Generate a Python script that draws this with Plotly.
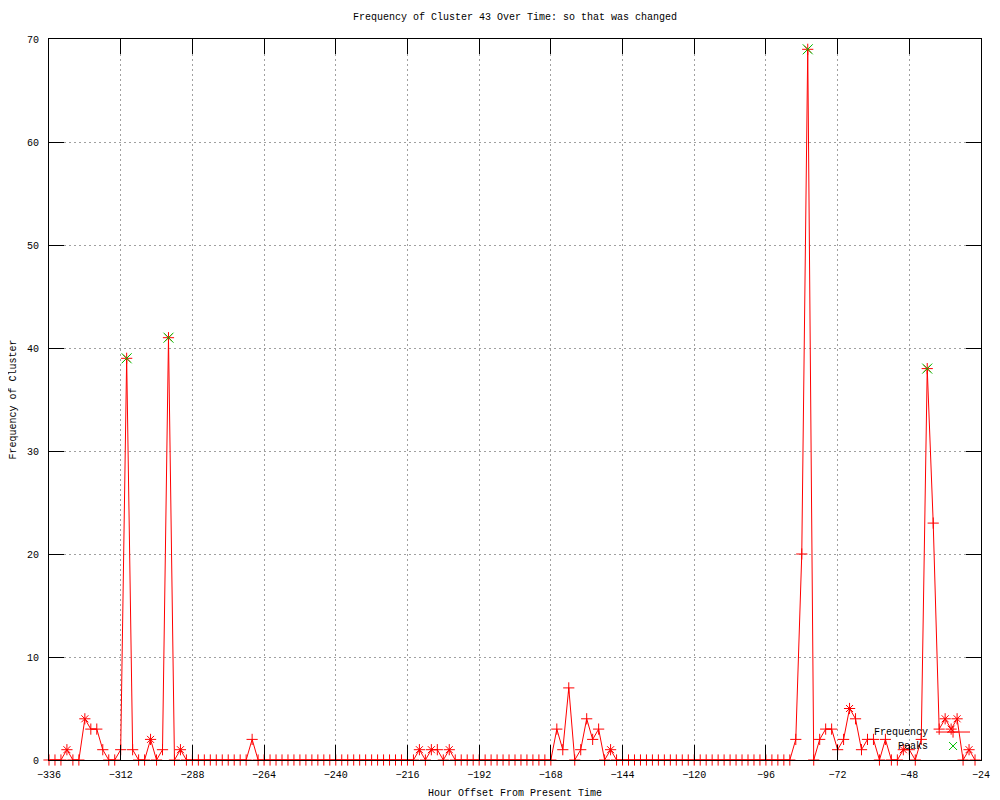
import plotly.graph_objects as go

# ---- data ----
hours = list(range(-336, -24, 2))  # -336 .. -26
freq = [
    0, 0, 0, 1, 0, 0, 4, 3, 3, 1, 0, 0,        # -336 .. -314
    1, 39, 1, 0, 0, 2, 0, 1, 41, 0, 1, 0,      # -312 .. -290
    0, 0, 0, 0, 0, 0, 0, 0, 0, 0, 2, 0,        # -288 .. -266
    0, 0, 0, 0, 0, 0, 0, 0, 0, 0, 0, 0,        # -264 .. -242
    0, 0, 0, 0, 0, 0, 0, 0, 0, 0, 0, 0,        # -240 .. -218
    0, 0, 1, 0, 1, 1, 0, 1, 0, 0, 0, 0,        # -216 .. -194
    0, 0, 0, 0, 0, 0, 0, 0, 0, 0, 0, 0,        # -192 .. -170
    0, 3, 1, 7, 0, 1, 4, 2, 3, 0, 1, 0,        # -168 .. -146
    0, 0, 0, 0, 0, 0, 0, 0, 0, 0, 0, 0,        # -144 .. -122
    0, 0, 0, 0, 0, 0, 0, 0, 0, 0, 0, 0,        # -120 .. -98
    0, 0, 0, 0, 0, 2, 20, 69, 0, 2, 3, 3,      # -96 .. -74
    1, 2, 5, 4, 1, 2, 2, 0, 2, 0, 0, 1,        # -72 .. -50
    1, 0, 2, 38, 23, 3, 4, 3, 4, 0, 1, 0,      # -48 .. -26
]
# points that are drawn as stars (extra red x mark)
star_hours = [-330, -324, -310, -302, -296, -292, -212, -208, -202, -148,
              -82, -68, -50, -42, -36, -34, -32, -28]
peak_hours = [-310, -296, -82, -42]
peak_vals = [39, 41, 69, 38]

x_ticks = list(range(-336, -23, 24))
y_ticks = list(range(0, 71, 10))

RED = "#ff0000"
GREEN = "#00c000"
FONT = "Liberation Mono"

lookup = dict(zip(hours, freq))
star_vals = [lookup[h] for h in star_hours]

fig = go.Figure()
fig.add_trace(go.Scatter(
    x=hours, y=freq, mode="lines+markers", name="Frequency",
    line=dict(color=RED, width=1),
    marker=dict(symbol="cross-thin", size=8, color=RED, line=dict(color=RED, width=1)),
    showlegend=False, cliponaxis=False))
fig.add_trace(go.Scatter(
    x=star_hours, y=star_vals, mode="markers",
    marker=dict(symbol="x-thin", size=7, color=RED, line=dict(color=RED, width=1)),
    showlegend=False, cliponaxis=False))
fig.add_trace(go.Scatter(
    x=peak_hours, y=peak_vals, mode="markers", name="Peaks",
    marker=dict(symbol="x-thin", size=10, color=GREEN, line=dict(color=GREEN, width=1)),
    showlegend=False, cliponaxis=False))

# legend samples on an overlay axis (0..1 over the plot area)
fig.add_trace(go.Scatter(
    x=[0.9517, 0.9882], y=[0.0388, 0.0388], mode="lines",
    line=dict(color=RED, width=1), xaxis="x2", yaxis="y2", showlegend=False))
fig.add_trace(go.Scatter(
    x=[0.970], y=[0.0388], mode="markers",
    marker=dict(symbol="cross-thin", size=8, color=RED, line=dict(color=RED, width=1)),
    xaxis="x2", yaxis="y2", showlegend=False))
fig.add_trace(go.Scatter(
    x=[0.970], y=[0.0194], mode="markers",
    marker=dict(symbol="x-thin", size=8, color=GREEN, line=dict(color=GREEN, width=1)),
    xaxis="x2", yaxis="y2", showlegend=False))

axis_common = dict(
    showline=True, linecolor="black", linewidth=1, mirror="ticks",
    ticks="inside", ticklen=15, tickcolor="black", tickwidth=1,
    showgrid=True, gridcolor="#a0a0a0", gridwidth=1, griddash="2px,3px",
    zeroline=False, tickfont=dict(family=FONT, size=10, color="black"),
)

fig.update_layout(
    width=1000, height=800,
    margin=dict(l=41, r=27, t=31, b=48, autoexpand=False),
    paper_bgcolor="white", plot_bgcolor="white",
    font=dict(family=FONT, size=10, color="black"),
    xaxis=dict(range=[-336, -24], tickmode="array", tickvals=x_ticks,
               ticklabelstandoff=5, **axis_common),
    yaxis=dict(range=[0, 70], tickmode="array", tickvals=y_ticks,
               ticklabelstandoff=7, **axis_common),
    xaxis2=dict(overlaying="x", range=[0, 1], visible=False, fixedrange=True),
    yaxis2=dict(overlaying="y", range=[0, 1], visible=False, fixedrange=True),
    showlegend=False,
    annotations=[
        dict(text="Frequency of Cluster 43 Over Time: so that was changed",
             x=0.5, y=1.0295, xref="paper", yref="paper", showarrow=False,
             xanchor="center", yanchor="middle", font=dict(family=FONT, size=10)),
        dict(text="Hour Offset From Present Time",
             x=0.5, y=-0.0458, xref="paper", yref="paper", showarrow=False,
             xanchor="center", yanchor="middle", font=dict(family=FONT, size=10)),
        dict(text="Frequency of Cluster",
             x=-0.0386, y=0.5, xref="paper", yref="paper", showarrow=False,
             textangle=-90, xanchor="center", yanchor="middle",
             font=dict(family=FONT, size=10)),
        dict(text="Frequency", x=0.9453, y=0.0388, xref="paper", yref="paper",
             showarrow=False, xanchor="right", yanchor="middle",
             font=dict(family=FONT, size=10)),
        dict(text="Peaks", x=0.9453, y=0.0194, xref="paper", yref="paper",
             showarrow=False, xanchor="right", yanchor="middle",
             font=dict(family=FONT, size=10)),
    ],
)

fig.write_html("out.html")
